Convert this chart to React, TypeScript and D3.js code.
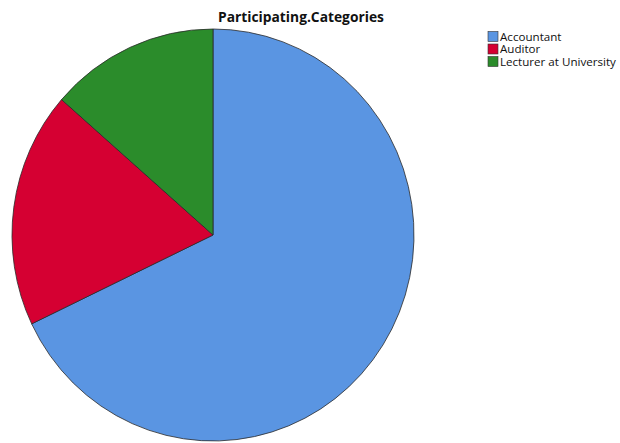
import React from "react";
import * as d3 from "d3";

const categories = ["Accountant", "Auditor", "Lecturer at University"];
const counts = [55, 15, 11];
const colors = ["#5A95E2", "#D50032", "#2B8C2B"];
const title = "Participating.Categories";

export default function App() {
  const width = 620;
  const height = 443;
  const cx = 213;
  const cy = 235;
  const r = 206;
  const sx = 201 / 206;

  const pie = d3.pie<number>().sort(null).value((d) => d);
  const arcs = pie(counts);
  const arc = d3.arc<d3.PieArcDatum<number>>().innerRadius(0).outerRadius(r);

  return (
    <svg
      width={width}
      height={height}
      style={{ position: "absolute", left: 0, top: 0, background: "#fff" }}
    >
      <text
        x={301}
        y={22}
        textAnchor="middle"
        fontFamily="Open Sans, sans-serif"
        fontWeight="bold"
        fontSize={13.8}
        fill="#111"
      >
        {title}
      </text>
      <g transform={`translate(${cx},${cy}) scale(${sx},1)`}>
        {arcs.map((a, i) => (
          <path
            key={categories[i]}
            d={arc(a) || ""}
            fill={colors[i]}
            stroke="#2a2a2a"
            strokeWidth={0.8}
            vectorEffect="non-scaling-stroke"
          />
        ))}
      </g>
      <g fontFamily="Open Sans, sans-serif" fontSize={11.6} fill="#111">
        {categories.map((c, i) => (
          <g key={c} transform={`translate(488,${31.5 + i * 12.5})`}>
            <rect
              width={10}
              height={10}
              fill={colors[i]}
              stroke="#333"
              strokeWidth={0.6}
            />
            <text x={12} y={9}>
              {c}
            </text>
          </g>
        ))}
      </g>
    </svg>
  );
}
